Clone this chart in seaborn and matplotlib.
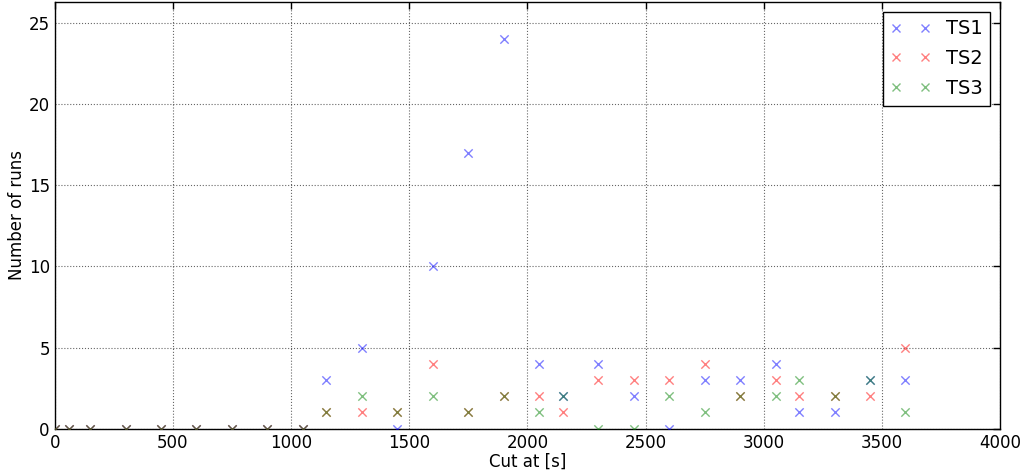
import matplotlib
matplotlib.use("Agg")
import matplotlib.pyplot as plt
from matplotlib.lines import Line2D
import seaborn as sns
import pandas as pd

cut_at = [0, 60, 150, 300, 450, 600, 750, 900, 1050, 1150, 1300, 1450, 1600, 1750,
          1900, 2050, 2150, 2300, 2450, 2600, 2750, 2900, 3050, 3150, 3300, 3450, 3600]
ts1 = [0, 0, 0, 0, 0, 0, 0, 0, 0, 3, 5, 0, 10, 17, 24, 4, 2, 4, 2, 0, 3, 3, 4, 1, 1, 3, 3]
ts2 = [0, 0, 0, 0, 0, 0, 0, 0, 0, 1, 1, 1, 4, 1, 2, 2, 1, 3, 3, 3, 4, 2, 3, 2, 2, 2, 5]
ts3 = [0, 0, 0, 0, 0, 0, 0, 0, 0, 1, 2, 1, 2, 1, 2, 1, 2, 0, 0, 2, 1, 2, 2, 3, 2, 3, 1]
series_names = ["TS1", "TS2", "TS3"]
colors = {"TS1": "#0000ff", "TS2": "#ff0000", "TS3": "#008000"}

rows = []
for name, vals in zip(series_names, [ts1, ts2, ts3]):
    for x, y in zip(cut_at, vals):
        rows.append({"Cut at [s]": x, "Number of runs": y, "series": name})
df = pd.DataFrame(rows)

sns.set_style("white")
plt.rcParams['font.family'] = ['DejaVu Sans']
plt.rcParams['xtick.direction'] = 'in'
plt.rcParams['ytick.direction'] = 'in'
plt.rcParams['text.color'] = 'black'
plt.rcParams['axes.labelcolor'] = 'black'
plt.rcParams['xtick.color'] = 'black'
plt.rcParams['ytick.color'] = 'black'

fig = plt.figure(figsize=(10.22, 4.72), dpi=100)
ax = fig.add_axes([0.0535, 0.0917, 0.925, 0.9041])

for name in series_names:
    sub = df[df["series"] == name]
    sns.scatterplot(data=sub, x="Cut at [s]", y="Number of runs", ax=ax,
                    color=colors[name], marker="x", s=36, alpha=0.5,
                    linewidth=1.0, legend=False, zorder=3)
for coll in ax.collections:
    coll.set_clip_on(True)

ax.set_xlim(0, 4000)
ax.set_ylim(0, 26.3)
ax.set_xticks(range(0, 4001, 500))
ax.set_yticks(range(0, 26, 5))
ax.grid(True, linestyle=':', color='black', linewidth=0.8, alpha=0.6)
ax.tick_params(axis='both', labelsize=12, top=True, right=True, length=5,
               color='black', width=1, labelcolor='black')
for sp in ax.spines.values():
    sp.set_color('black')
    sp.set_linewidth(1.0)
ax.set_xlabel("Cut at [s]", fontsize=12, labelpad=1)
ax.set_ylabel("Number of runs", fontsize=12, labelpad=2)

handles = [Line2D([], [], linestyle='none', marker='x', color=colors[n],
                  alpha=0.5, markersize=6) for n in series_names]
leg = ax.legend(handles, series_names, loc='upper right', numpoints=2,
                fontsize=14, frameon=True, fancybox=False,
                borderaxespad=0.5, handlelength=2.1, labelspacing=0.55,
                handletextpad=0.75, borderpad=0.4)
leg.get_frame().set_edgecolor('black')
leg.get_frame().set_linewidth(1.0)
leg.get_frame().set_alpha(1)

fig.savefig("out.png", dpi=100)
